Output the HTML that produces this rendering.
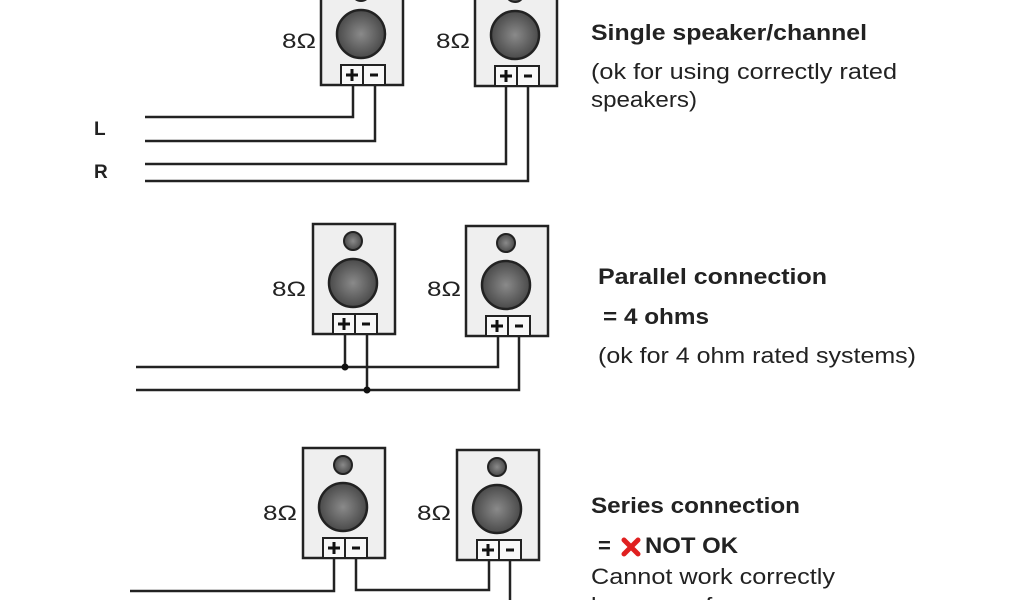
<!DOCTYPE html>
<html><head><meta charset="utf-8"><style>
html,body{margin:0;padding:0;background:#fff;}
svg{display:block}
text{font-family:"Liberation Sans",sans-serif;fill:#222}
.b{font-weight:bold}
</style></head><body>
<svg width="1024" height="600" viewBox="0 0 1024 600" xmlns="http://www.w3.org/2000/svg">
<defs>
<radialGradient id="g" cx="50%" cy="50%" r="50%"><stop offset="0" stop-color="#8a8a8a"/><stop offset="1" stop-color="#4a4a4a"/></radialGradient>
<g id="spk">
<rect x="0" y="0" width="82" height="110" fill="#efefef" stroke="#222" stroke-width="2.5"/>
<circle cx="40" cy="17" r="9" fill="url(#g)" stroke="#222" stroke-width="2"/>
<circle cx="40" cy="59" r="24" fill="url(#g)" stroke="#222" stroke-width="2.5"/>
<rect x="20" y="90" width="22" height="20" fill="#f8f8f8" stroke="#222" stroke-width="2"/>
<rect x="42" y="90" width="22" height="20" fill="#f8f8f8" stroke="#222" stroke-width="2"/>
<path d="M25 100h12M31 94v12" stroke="#111" stroke-width="3"/>
<path d="M49 100h8" stroke="#111" stroke-width="3"/>
</g>
</defs>
<g fill="none" stroke="#222" stroke-width="2.5">
<path d="M353 85V117H145"/>
<path d="M375 85V141H145"/>
<path d="M506 86V164H145"/>
<path d="M528 86V181H145"/>
<path d="M136 367H498V336"/>
<path d="M136 390H519V336"/>
<path d="M345 333V367"/>
<path d="M367 333V390"/>
<path d="M334 557V591H130"/>
<path d="M356 557V590H489V560"/>
<path d="M510 560V600"/>
</g>
<circle cx="345" cy="367" r="3.5" fill="#111"/>
<circle cx="367" cy="390" r="3.5" fill="#111"/>
<use href="#spk" transform="translate(321,-25)"/>
<use href="#spk" transform="translate(475,-24)"/>
<use href="#spk" transform="translate(313,224)"/>
<use href="#spk" transform="translate(466,226)"/>
<use href="#spk" transform="translate(303,448)"/>
<use href="#spk" transform="translate(457,450)"/>
<g font-size="21">
<text x="282" y="48" textLength="34" lengthAdjust="spacingAndGlyphs">8Ω</text><text x="436" y="48" textLength="34" lengthAdjust="spacingAndGlyphs">8Ω</text>
<text x="272" y="296" textLength="34" lengthAdjust="spacingAndGlyphs">8Ω</text><text x="427" y="296" textLength="34" lengthAdjust="spacingAndGlyphs">8Ω</text>
<text x="263" y="520" textLength="34" lengthAdjust="spacingAndGlyphs">8Ω</text><text x="417" y="520" textLength="34" lengthAdjust="spacingAndGlyphs">8Ω</text>
</g>
<text x="94" y="135" font-size="19" class="b">L</text>
<text x="94" y="178" font-size="19" class="b">R</text>
<g font-size="22" lengthAdjust="spacingAndGlyphs">
<text x="591" y="40" class="b" textLength="276" lengthAdjust="spacingAndGlyphs">Single speaker/channel</text>
<text x="591" y="79" textLength="306" lengthAdjust="spacingAndGlyphs">(ok for using correctly rated</text>
<text x="591" y="107" textLength="106" lengthAdjust="spacingAndGlyphs">speakers)</text>
<text x="598" y="284" class="b" textLength="229" lengthAdjust="spacingAndGlyphs">Parallel connection</text>
<text x="603" y="324" class="b" textLength="106" lengthAdjust="spacingAndGlyphs">= 4 ohms</text>
<text x="598" y="363" textLength="318" lengthAdjust="spacingAndGlyphs">(ok for 4 ohm rated systems)</text>
<text x="591" y="513" class="b" textLength="209" lengthAdjust="spacingAndGlyphs">Series connection</text>
<text x="598" y="553" class="b">=</text>
<text x="645" y="553" class="b" textLength="93" lengthAdjust="spacingAndGlyphs">NOT OK</text>
<text x="591" y="584" textLength="244" lengthAdjust="spacingAndGlyphs">Cannot work correctly</text>
<text x="591" y="613" textLength="248" lengthAdjust="spacingAndGlyphs">because of crossovers</text>
</g>
<path d="M624 540l14 14M638 540l-14 14" stroke="#e02020" stroke-width="5" stroke-linecap="round"/>
</svg>
</body></html>
